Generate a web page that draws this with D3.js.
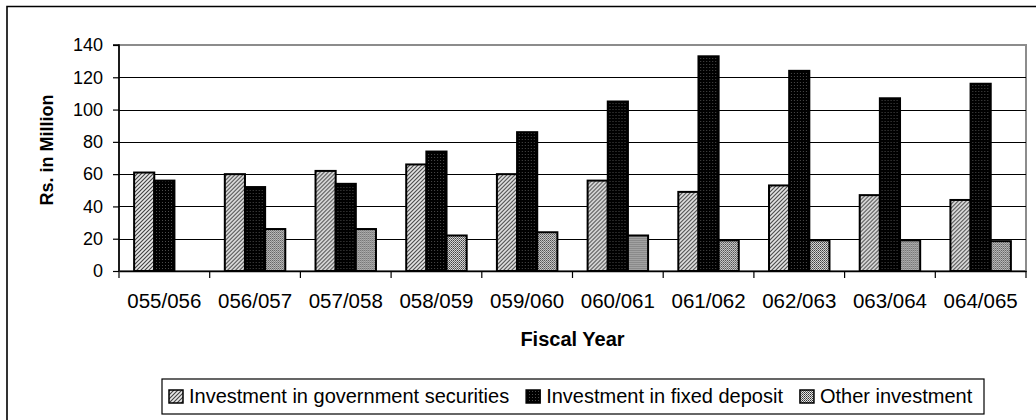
<!DOCTYPE html>
<html>
<head>
<meta charset="utf-8">
<script src="https://cdn.jsdelivr.net/npm/d3@7"></script>
<style>
  html, body { margin: 0; padding: 0; background: #fff; }
  svg { display: block; font-family: "Liberation Sans", Arial, sans-serif; }
</style>
</head>
<body>
<svg id="chart" width="1036" height="420"></svg>
<script>
// Fiscal years (Nepali calendar) on the category axis
const fiscalYears = ["055/056", "056/057", "057/058", "058/059", "059/060",
                     "060/061", "061/062", "062/063", "063/064", "064/065"];

// Investment amounts, Rs. in million
const governmentSecurities = [61, 60, 62, 66, 60, 56, 49, 53, 47, 44];
const fixedDeposit         = [56, 52, 54, 74, 86, 105, 133, 124, 107, 116];
const otherInvestment      = [0, 26, 26, 22, 24, 22, 19, 19, 19, 18.5];

const seriesNames = ["Investment in government securities",
                     "Investment in fixed deposit",
                     "Other investment"];
const yTicks = [0, 20, 40, 60, 80, 100, 120, 140];

const seriesValues = [governmentSecurities, fixedDeposit, otherInvestment];
const patternIds = ["pat-gov", "pat-fd", "pat-other"];

const svg = d3.select("#chart");
const plot = { left: 119, right: 1026, top: 45, bottom: 271 };

// ---- fill patterns ----
const defs = svg.append("defs");

const pGov = defs.append("pattern").attr("id", "pat-gov")
  .attr("patternUnits", "userSpaceOnUse").attr("width", 4).attr("height", 4);
pGov.append("rect").attr("width", 4).attr("height", 4).attr("fill", "#e8e8e8");
pGov.append("path").attr("d", "M0,4 L4,0 M-1,1 L1,-1 M3,5 L5,3")
  .attr("stroke", "#404040").attr("stroke-width", 1.1);

const pFd = defs.append("pattern").attr("id", "pat-fd")
  .attr("patternUnits", "userSpaceOnUse").attr("width", 3).attr("height", 3);
pFd.append("rect").attr("width", 3).attr("height", 3).attr("fill", "#000");
pFd.append("rect").attr("x", 1).attr("y", 1).attr("width", 1).attr("height", 1).attr("fill", "#4a4a4a");

const pOther = defs.append("pattern").attr("id", "pat-other")
  .attr("patternUnits", "userSpaceOnUse").attr("width", 2).attr("height", 2);
pOther.append("rect").attr("width", 2).attr("height", 2).attr("fill", "#e4e4e4");
pOther.append("rect").attr("x", 0).attr("y", 0).attr("width", 1).attr("height", 1).attr("fill", "#303030");
pOther.append("rect").attr("x", 1).attr("y", 1).attr("width", 1).attr("height", 1).attr("fill", "#606060");

// ---- outer chart border ----
svg.append("path")
  .attr("d", "M7,420 L7,6.5 L1036,6.5")
  .attr("fill", "none").attr("stroke", "#000").attr("stroke-width", 1.6);

// ---- scales ----
const x0 = d3.scaleBand().domain(fiscalYears).range([plot.left, plot.right]).padding(0);
const x1 = d3.scaleBand().domain(d3.range(seriesNames.length))
  .range([0, x0.bandwidth()]).paddingInner(0).paddingOuter(0.75);
const y = d3.scaleLinear().domain([0, 140]).range([plot.bottom, plot.top]);

// ---- plot frame and gridlines ----
svg.append("rect")
  .attr("x", plot.left).attr("y", plot.top)
  .attr("width", plot.right - plot.left).attr("height", plot.bottom - plot.top)
  .attr("fill", "#fff").attr("stroke", "#8c8c8c").attr("stroke-width", 2);

svg.append("g").selectAll("line")
  .data(yTicks.filter(t => t > 0 && t < 140))
  .join("line")
  .attr("x1", plot.left).attr("x2", plot.right)
  .attr("y1", d => Math.round(y(d)) + 0.5).attr("y2", d => Math.round(y(d)) + 0.5)
  .attr("stroke", "#000").attr("stroke-width", 1);

// ---- bars ----
const groups = svg.append("g").selectAll("g")
  .data(fiscalYears)
  .join("g")
  .attr("transform", d => `translate(${x0(d)},0)`);

groups.selectAll("rect")
  .data((d, i) => seriesValues.map((vals, s) => ({ s, v: vals[i] })).filter(e => e.v > 0))
  .join("rect")
  .attr("x", e => x1(e.s))
  .attr("width", x1.bandwidth())
  .attr("y", e => y(e.v))
  .attr("height", e => y(0) - y(e.v))
  .attr("fill", e => `url(#${patternIds[e.s]})`)
  .attr("stroke", "#000").attr("stroke-width", 2);

// ---- y axis ----
const yAxis = svg.append("g")
  .attr("transform", `translate(${plot.left},0)`)
  .call(d3.axisLeft(y).tickValues(yTicks).tickSize(6).tickPadding(10).tickFormat(d3.format("d")));
yAxis.select(".domain").attr("stroke", "#000").attr("stroke-width", 1.6).attr("d", `M-6,${plot.top}H0V${plot.bottom}`);
yAxis.selectAll(".tick line").attr("stroke", "#000").attr("stroke-width", 1.2);
yAxis.selectAll(".tick text")
  .attr("font-size", 18).attr("fill", "#000")
  .attr("font-family", "Liberation Sans, Arial, sans-serif");

// ---- x axis ----
const xAxis = svg.append("g")
  .attr("transform", `translate(0,${plot.bottom})`)
  .call(d3.axisBottom(x0).tickSize(0).tickPadding(0));
xAxis.select(".domain").attr("stroke", "#000").attr("stroke-width", 1.6);
xAxis.selectAll(".tick text")
  .attr("font-size", 20.5).attr("fill", "#000")
  .attr("font-family", "Liberation Sans, Arial, sans-serif")
  .attr("dy", null).attr("y", 37);

// category boundary ticks
xAxis.append("g").selectAll("line")
  .data(d3.range(fiscalYears.length + 1))
  .join("line")
  .attr("x1", i => i < fiscalYears.length ? x0(fiscalYears[i]) : plot.right)
  .attr("x2", i => i < fiscalYears.length ? x0(fiscalYears[i]) : plot.right)
  .attr("y1", 0).attr("y2", 7)
  .attr("stroke", "#000").attr("stroke-width", 1.2);

// ---- axis titles ----
svg.append("text")
  .attr("transform", "translate(53,150) rotate(-90)")
  .attr("text-anchor", "middle")
  .attr("font-size", 18).attr("font-weight", "bold")
  .text("Rs. in Million");

svg.append("text")
  .attr("x", (plot.left + plot.right) / 2).attr("y", 346)
  .attr("text-anchor", "middle")
  .attr("font-size", 20).attr("font-weight", "bold")
  .text("Fiscal Year");

// ---- legend ----
const legend = svg.append("g");
legend.append("rect")
  .attr("x", 162).attr("y", 379).attr("width", 822).attr("height", 35)
  .attr("fill", "#fff").attr("stroke", "#000").attr("stroke-width", 1.2);

let lx = 169;
seriesNames.forEach((name, s) => {
  legend.append("rect")
    .attr("x", lx).attr("y", 390).attr("width", 14).attr("height", 13)
    .attr("fill", `url(#${patternIds[s]})`)
    .attr("stroke", "#000").attr("stroke-width", 1.5);
  const t = legend.append("text")
    .attr("x", lx + 20).attr("y", 403)
    .attr("font-size", 20)
    .text(name);
  lx += 20 + t.node().getComputedTextLength() + 17;
});
</script>
</body>
</html>
